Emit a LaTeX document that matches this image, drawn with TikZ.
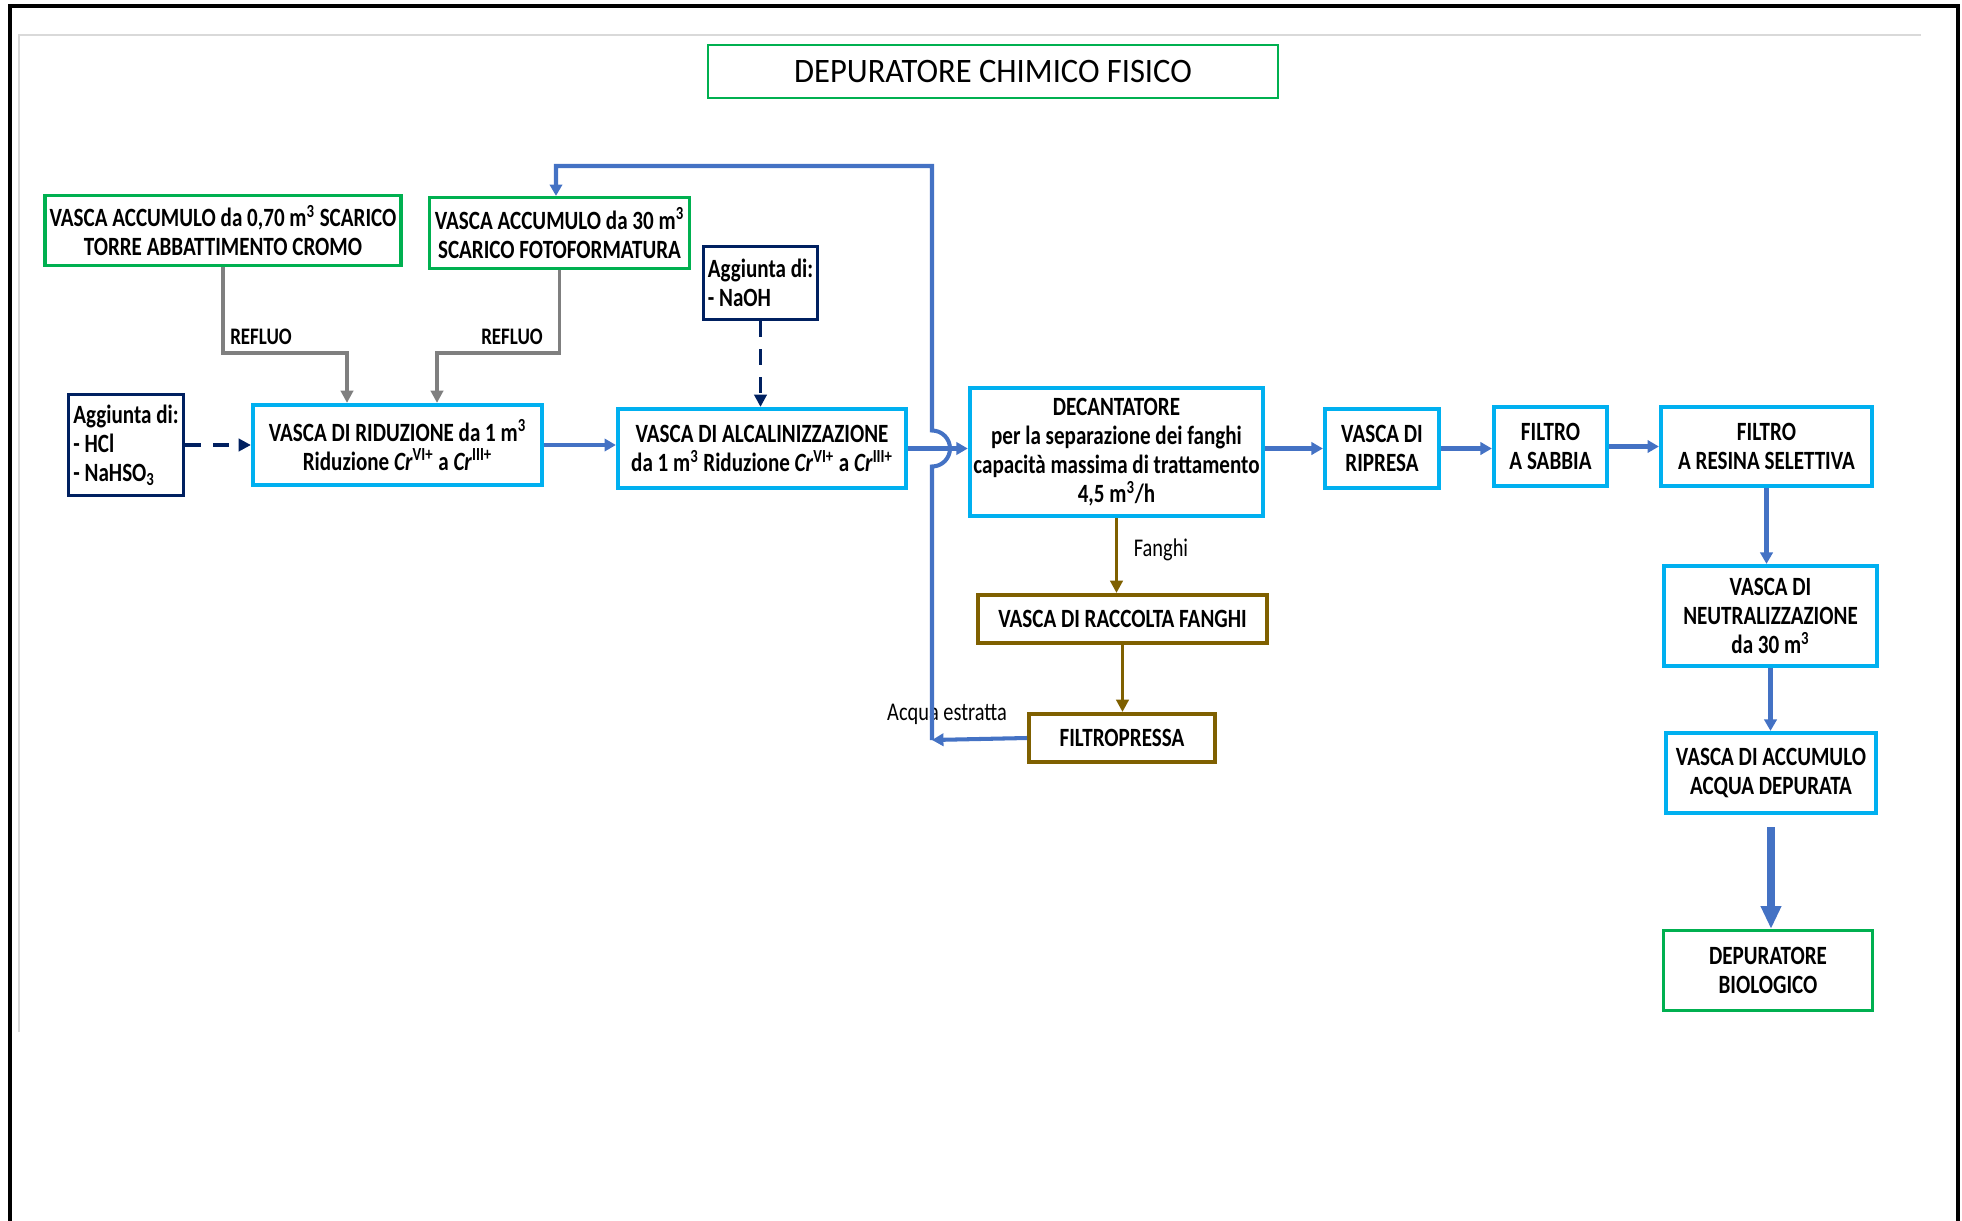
\documentclass[tikz,border=0pt]{standalone}
\usepackage{fontspec}
\setmainfont{Carlito}[FakeStretch=0.8]
\newfontfamily\titlefont{Carlito}[FakeStretch=0.95]
\usetikzlibrary{arrows.meta}
\definecolor{boxcyan}{HTML}{00B0F0}
\definecolor{boxgreen}{HTML}{00B050}
\definecolor{boxnavy}{HTML}{002060}
\definecolor{boxbrown}{HTML}{7F6000}
\definecolor{flowblue}{HTML}{4472C4}
\definecolor{flowgray}{HTML}{7F7F7F}
\definecolor{rulegray}{HTML}{D9D9D9}
\tikzset{
  tank/.style={draw=boxcyan, line width=2.4pt, align=center, inner sep=2pt,
    font=\fontsize{15}{16.5}\selectfont\bfseries},
  source/.style={tank, draw=boxgreen, line width=1.8pt},
  dose/.style={tank, draw=boxnavy, line width=1.8pt, align=left},
  sludge/.style={tank, draw=boxbrown, line width=2.3pt},
  flow/.style={draw=flowblue, line width=2.3pt, -{Triangle[length=6.5pt,width=7pt]}},
  feed/.style={draw=flowgray, line width=2pt, -{Triangle[length=7pt,width=7pt]}},
  dosing/.style={draw=boxnavy, line width=2pt, dash pattern=on 9pt off 7pt,
    -{Triangle[length=7pt,width=7pt]}},
  mudflow/.style={draw=boxbrown, line width=2pt, -{Triangle[length=7pt,width=7pt]}},
  tag/.style={font=\fontsize{14.5}{16}\selectfont},
  boldtag/.style={font=\fontsize{13.5}{15}\selectfont\bfseries}
}
\begin{document}
\begin{tikzpicture}[x=0.02cm, y=-0.02cm]
  \useasboundingbox (0,0) rectangle (1962,1221);
  % page frame
  \draw[line width=1.8pt] (10,1230) -- (10,6) -- (1958,6) -- (1958,1230);
  \draw[rulegray, line width=1pt] (19,1032) -- (19,35) -- (1921,35);

  \node[source, line width=1.5pt, minimum width=11.4cm, minimum height=1.06cm,
    font=\titlefont\fontsize{19.5}{22}\selectfont] (title) at (993,71.5) {DEPURATORE CHIMICO FISICO};

  % sources and dosing
  \node[source, minimum width=7.12cm, minimum height=1.4cm] (accA) at (223,230.5)
    {VASCA ACCUMULO da 0,70 m\textsuperscript{3} SCARICO\\TORRE ABBATTIMENTO CROMO};
  \node[source, minimum width=5.2cm, minimum height=1.42cm] (accB) at (559.5,233)
    {VASCA ACCUMULO da 30 m\textsuperscript{3}\\SCARICO FOTOFORMATURA};
  \node[dose, minimum width=2.3cm, minimum height=2.02cm] (addA) at (126,445)
    {Aggiunta di:\\- HCl\\- NaHSO\textsubscript{3}};
  \node[dose, minimum width=2.28cm, minimum height=1.46cm] (addB) at (760.5,283)
    {Aggiunta di:\\- NaOH};

  % main line
  \node[tank, minimum width=5.78cm, minimum height=1.6cm] (rid) at (397.5,445)
    {VASCA DI RIDUZIONE da 1 m\textsuperscript{3}\\Riduzione \textit{Cr}\textsuperscript{VI+} a \textit{Cr}\textsuperscript{III+}};
  \node[tank, minimum width=5.76cm, minimum height=1.58cm] (alc) at (762,448.5)
    {VASCA DI ALCALINIZZAZIONE\\da 1 m\textsuperscript{3} Riduzione \textit{Cr}\textsuperscript{VI+} a \textit{Cr}\textsuperscript{III+}};
  \node[tank, minimum width=5.66cm, minimum height=2.56cm] (dec) at (1116.5,452)
    {DECANTATORE\\per la separazione dei fanghi\\capacità massima di trattamento\\4,5 m\textsuperscript{3}/h};
  \node[tank, minimum width=2.28cm, minimum height=1.58cm] (rip) at (1382,448.5) {VASCA DI\\RIPRESA};
  \node[tank, minimum width=2.26cm, minimum height=1.58cm] (sab) at (1550.5,446.5) {FILTRO\\A SABBIA};
  \node[tank, minimum width=4.22cm, minimum height=1.58cm] (res) at (1766.5,446.5) {FILTRO\\A RESINA SELETTIVA};
  \node[tank, minimum width=4.26cm, minimum height=2cm] (neu) at (1770.5,616)
    {VASCA DI\\NEUTRALIZZAZIONE\\da 30 m\textsuperscript{3}};
  \node[tank, minimum width=4.2cm, minimum height=1.6cm] (acq) at (1771,773) {VASCA DI ACCUMULO\\ACQUA DEPURATA};
  \node[source, minimum width=4.18cm, minimum height=1.6cm] (bio) at (1768,970.5) {DEPURATORE\\BIOLOGICO};

  % sludge line
  \node[sludge, minimum width=5.78cm, minimum height=0.96cm] (fan) at (1122.5,619) {VASCA DI RACCOLTA FANGHI};
  \node[sludge, minimum width=3.72cm, minimum height=0.96cm] (fp) at (1122,738) {FILTROPRESSA};

  % reflui
  \coordinate (bendA) at (347,353);
  \coordinate (bendB) at (437,353);
  \draw[feed] (accA.south) |- (bendA) -- (bendA |- rid.north);
  \draw[feed] (accB.south) |- (bendB) -- (bendB |- rid.north);
  \node[boldtag] (reflA) at (261,337) {REFLUO};
  \node[boldtag] (reflB) at (512,337) {REFLUO};

  \draw[dosing] (addA) -- (rid);
  \draw[dosing] (addB.south) -- (addB.south |- alc.north);

  \draw[flow] (rid.east) -- (rid.east -| alc.west);
  \draw[flow] (alc.east) -- (alc.east -| dec.west);

  % recirculation of the extracted water
  \node[tag] (acqua) at (947,714) {Acqua estratta};
  \coordinate (ret) at (932,740);
  \coordinate (hop) at (ret |- alc.east);
  \coordinate (top) at (556,166);
  \draw[flow] (fp.west) -- (ret);
  \draw[flow] (ret) -- ([yshift=-0.36cm]hop) arc[start angle=-90, end angle=90, radius=0.36cm]
    |- (top) -- (top |- accB.north);

  \draw[mudflow] (dec.south) -- (dec.south |- fan.north);
  \node[tag] (fanghi) at (1161,550) {Fanghi};
  \draw[mudflow] (fan.south) -- (fan.south |- fp.north);

  \draw[flow] (rip.west -| dec.east) -- (rip.west);
  \draw[flow] (rip.east) -- (rip.east -| sab.west);
  \draw[flow] (sab) -- (res);
  \draw[flow] (res.south) -- (res.south |- neu.north);
  \draw[flow] (neu.south) -- (neu.south |- acq.north);
  \draw[flow, line width=4.9pt, -{Triangle[length=13pt,width=11pt]}, shorten <=0.24cm]
    (acq.south) -- (acq.south |- bio.north);
\end{tikzpicture}
\end{document}
